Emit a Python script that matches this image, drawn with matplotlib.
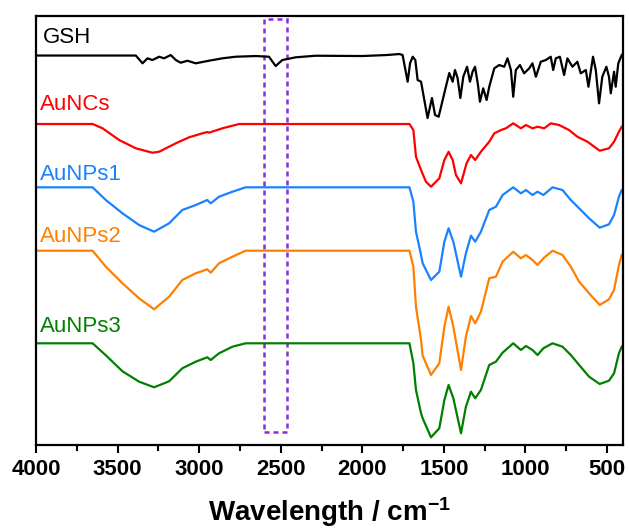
import matplotlib
matplotlib.use("Agg")
import matplotlib.pyplot as plt
from matplotlib.patches import Rectangle
from matplotlib.ticker import MultipleLocator

plt.rcParams['font.family'] = ['Liberation Sans', 'DejaVu Sans']
plt.rcParams['mathtext.fontset'] = 'custom'
plt.rcParams['mathtext.rm'] = 'Liberation Sans:bold'
plt.rcParams['mathtext.default'] = 'regular'

# FTIR spectra: wavenumber (cm^-1) and transmittance relative to each baseline (a.u.)
gsh_wn = [4000, 3600, 3388, 3347, 3317, 3286, 3245, 3215, 3174, 3143, 3113, 3072, 3021,
          2940, 2858, 2776, 2654, 2572, 2531, 2490, 2409, 2287, 2000, 1850, 1773, 1753,
          1722, 1707, 1691, 1675, 1661, 1640, 1600, 1573, 1554, 1532, 1497, 1467, 1446,
          1432, 1416, 1399, 1381, 1358, 1340, 1324, 1309, 1291, 1279, 1259, 1238, 1222,
          1191, 1161, 1130, 1110, 1089, 1075, 1059, 1034, 1008, 977, 957, 936, 906, 875,
          845, 830, 814, 789, 763, 743, 712, 682, 661, 630, 614, 586, 569, 549, 529, 504,
          488, 477, 457, 447, 431, 410]
gsh_t = [0.5, 0.5, 0.5, -7.3, -2.3, -4, -0.7, -2.3, 1, -4, -6.7, -4.7, -7.3,
         -4.7, -2.3, -0.7, 0, -0.7, -10, -4, -1.3, 0.3, 0, 1, 2, 1,
         -25.7, -7, -0.7, -4, -24, -25.7, -62, -42, -59, -60.7, -37, -17, -25.7,
         -14, -22, -42, -20.7, -10.7, -25.7, -15.7, -10.7, -29, -45.7, -32.3, -44, -30.7,
         -12.3, -9, -10.7, -2.3, -14, -40.7, -14, -9, -17.3, -12.3, -7.3, -20.7, -5.7, -4,
         -0.7, -14, -2.3, -0.7, -19, -2.3, -10.7, -5.7, -17.3, -14, -30.7, -0.7, -14, -47.3, -20.7, -10.7,
         -20.7, -37.3, -15.7, -30.7, -7.3, 1]

auncs_wn = [4000, 3653, 3592, 3490, 3388, 3286, 3245, 3143, 3062, 2980, 2950, 2940, 2858,
            2756, 2400, 2000, 1711, 1687, 1671, 1640, 1610, 1579, 1528, 1497, 1471, 1446,
            1426, 1395, 1361, 1334, 1308, 1273, 1222, 1191, 1150, 1120, 1075, 1028, 997,
            957, 926, 885, 845, 794, 733, 682, 620, 545, 488, 457, 427, 410]
auncs_t = [0, 0, -4.3, -16, -24.3, -28.7, -27.7, -19.3, -13.3, -9.3, -8, -8.7, -4.3,
           0, 0, 0, 0, -6, -32.7, -46, -57.7, -62.7, -54.3, -36, -27.7, -36,
           -51, -59.3, -39.3, -31, -36, -27.7, -17.7, -9.3, -6, -4.3, 0.7, -4.3, -1,
           -4.3, -2.7, -4.3, 0.7, -1, -6, -12.7, -17.7, -26.7, -24.3, -17.7, -7.7, -2.7]

np_wn = [4000, 3653, 3572, 3470, 3368, 3276, 3184, 3103, 3021, 2950, 2929, 2878, 2796,
         2715, 2400, 2000, 1711, 1687, 1671, 1640, 1630, 1579, 1528, 1497, 1471, 1442,
         1395, 1365, 1334, 1308, 1273, 1222, 1181, 1140, 1075, 1028, 997, 957, 926, 890,
         834, 773, 722, 671, 610, 545, 488, 457, 427, 410]
aunps1_t = [0, 0, -12.7, -26, -37.7, -44.4, -36, -22.7, -17.7, -12.7, -16, -9.4, -4.4,
            0, 0, 0, 0, -14.4, -44.4, -67.7, -76, -92.7, -84.4, -54.4, -41, -54.4,
            -89.4, -66, -48.4, -54.4, -44.4, -22.7, -19.4, -7.7, 0, -6, -2.7, -7.7, -4.4, -7.7,
            0, -2.7, -12.7, -21, -31, -40.4, -37, -27.7, -9.4, -2.7]
aunps2_t = [0, 0, -16, -32.6, -47.6, -58.6, -46, -29.3, -22.6, -18.6, -22, -12.6, -6,
            0, 0, 0, 0, -16, -56, -89.3, -105, -124.3, -112.6, -76, -56, -76,
            -119.3, -86, -65.3, -72.6, -61, -27.6, -26, -11, -1, -7.6, -4.3, -9.3, -14.3, -7.6,
            0, -4.3, -16, -31, -42.6, -54.3, -48.6, -39.3, -14.3, -4.3]
aunps3_t = [0, 0, -12, -28, -38.4, -44, -38, -25, -18.4, -14, -16.7, -10, -3.4,
            0, 0, 0, 0, -20, -46.7, -70, -75, -94, -85, -56.7, -41.7, -55,
            -90, -63.4, -48.4, -55, -46.7, -21.7, -18.4, -9.4, 0, -6.7, -2.7, -6.7, -11.7, -5,
            0, -3.4, -11.7, -21.7, -33.4, -40.7, -37.4, -30, -10, -3.4]

names = ['GSH', 'AuNCs', 'AuNPs1', 'AuNPs2', 'AuNPs3']
colors = ['#000000', '#FF0000', '#1A82FF', '#FF8000', '#008000']
offsets = [389, 321, 257.7, 194.3, 101.7]
label_y = [408, 341, 271, 209, 118]
wns = [gsh_wn, auncs_wn, np_wn, np_wn, np_wn]
series = [gsh_t, auncs_t, aunps1_t, aunps2_t, aunps3_t]

fig = plt.figure(figsize=(6.29, 5.31), dpi=100)
ax = fig.add_axes([0.0572, 0.162, 0.9333, 0.8078])

for wn, t, off, c in zip(wns, series, offsets, colors):
    ax.plot(wn, [v + off for v in t], color=c, lw=1.6)

for name, c, ly in zip(names, colors, label_y):
    ax.text(4000 - (44 if name == 'GSH' else 24), ly, name, color=c, fontsize=16,
            ha='left', va='center')

# highlighted S-H stretching window
ax.add_patch(Rectangle((2600, 13), -140, 413, fill=False, edgecolor='#8A2BE2',
                       lw=1.8, ls=(0, (2, 1.6))))

ax.set_xlim(4000, 402)
ax.set_ylim(0, 429)
ax.xaxis.set_major_locator(MultipleLocator(500))
ax.xaxis.set_minor_locator(MultipleLocator(250))
ax.set_yticks([])
ax.tick_params(axis='x', which='major', direction='out', length=6, width=1.5,
               labelsize=16, pad=4)
ax.tick_params(axis='x', which='minor', direction='out', length=4, width=1.5)
for lab in ax.get_xticklabels():
    lab.set_fontweight('bold')
for s in ax.spines.values():
    s.set_linewidth(1.6)

ax.set_xlabel('Wavelength / cm$^{-1}$', fontsize=20, fontweight='bold', labelpad=11)

fig.savefig('out.png', dpi=100)
